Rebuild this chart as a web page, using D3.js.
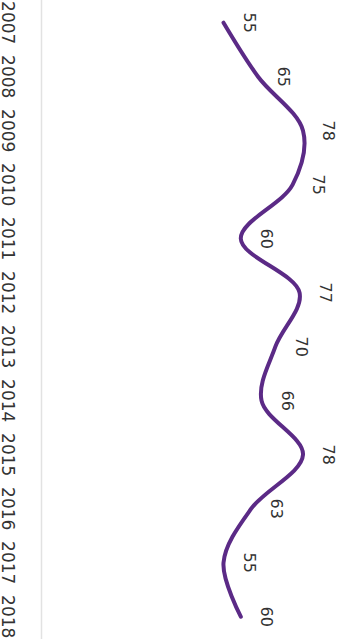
<!DOCTYPE html>
<html>
<head>
<meta charset="utf-8">
<script src="https://cdn.jsdelivr.net/npm/d3@7"></script>
<style>
html,body{margin:0;padding:0;background:#fff;}
svg{display:block;}
</style>
</head>
<body>
<div id="chart"></div>
<script>
const years = ["2007","2008","2009","2010","2011","2012","2013","2014","2015","2016","2017","2018"];
const values = [55,65,78,75,60,77,70,66,78,63,55,60];
const valueDomain = [0, 90];

const W = 344, H = 639;
const svg = d3.select("#chart").append("svg").attr("width", W).attr("height", H);
// chart drawn in landscape then rotated 90deg clockwise
const g = svg.append("g").attr("transform", `translate(${W},0) rotate(90)`);

const x = d3.scalePoint().domain(years).range([22.7, 616.7]);
const y = d3.scaleLinear().domain(valueDomain).range([310.6, -0.5]);

// axis baseline
g.append("line")
  .attr("x1", 0).attr("x2", H)
  .attr("y1", 302.5).attr("y2", 302.5)
  .attr("stroke", "#e2e2e2").attr("stroke-width", 1.5);

// year labels
g.selectAll("text.year").data(years).enter().append("text")
  .attr("class", "year")
  .attr("x", d => x(d))
  .attr("y", 341.6)
  .attr("text-anchor", "middle")
  .attr("font-family", "DejaVu Sans, sans-serif")
  .attr("font-size", 17)
  .attr("fill", "#333")
  .text(d => d);

const data = years.map((yr, i) => ({yr, v: values[i]}));

const line = d3.line()
  .x(d => x(d.yr))
  .y(d => y(d.v))
  .curve(d3.curveCatmullRom.alpha(0.5));

g.append("path")
  .datum(data)
  .attr("d", line)
  .attr("fill", "none")
  .attr("stroke", "#5b2a86")
  .attr("stroke-width", 4)
  .attr("stroke-linecap", "round")
  .attr("stroke-linejoin", "round");

// value labels
g.selectAll("text.val").data(data).enter().append("text")
  .attr("class", "val")
  .attr("x", d => x(d.yr))
  .attr("y", d => y(d.v) - 20.2)
  .attr("text-anchor", "middle")
  .attr("font-family", "DejaVu Sans, sans-serif")
  .attr("font-size", 16)
  .attr("fill", "#333")
  .text(d => d.v);
</script>
</body>
</html>
